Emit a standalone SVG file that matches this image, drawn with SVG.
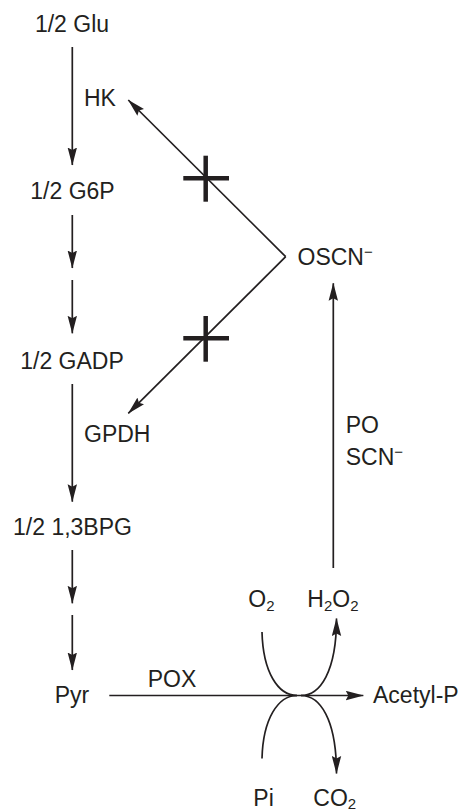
<svg xmlns="http://www.w3.org/2000/svg" width="462" height="810" viewBox="0 0 462 810">
<style>
text{font-family:"Liberation Sans",Arial,Helvetica,sans-serif;font-size:23px;fill:#231f20}
.c{text-anchor:middle}
.ln{stroke:#231f20;stroke-width:1.7;fill:none}
.x{stroke:#231f20;stroke-width:4.5;fill:none}
.sub{font-size:15px}
.sup{font-size:15px}
</style>
<defs>
<marker id="ah" markerUnits="userSpaceOnUse" markerWidth="18" markerHeight="10" viewBox="0 0 18 10" refX="17.5" refY="5" orient="auto">
<path d="M0,0.3 L18,5 L0,9.7 L2.5,5 z" fill="#231f20"/>
</marker>
</defs>
<g id="connectors">
<line class="ln" x1="72.3" y1="47" x2="72.3" y2="165" marker-end="url(#ah)"/>
<line class="ln" x1="72.3" y1="215" x2="72.3" y2="268" marker-end="url(#ah)"/>
<line class="ln" x1="72.3" y1="280" x2="72.3" y2="333.3" marker-end="url(#ah)"/>
<line class="ln" x1="72.3" y1="384" x2="72.3" y2="501.7" marker-end="url(#ah)"/>
<line class="ln" x1="72.3" y1="550" x2="72.3" y2="603.3" marker-end="url(#ah)"/>
<line class="ln" x1="72.3" y1="615" x2="72.3" y2="670" marker-end="url(#ah)"/>
<line class="ln" x1="109.3" y1="695.5" x2="363.3" y2="695.5" marker-end="url(#ah)"/>
<line class="ln" x1="333.3" y1="568" x2="333.3" y2="283.3" marker-end="url(#ah)"/>
<line class="ln" x1="285.7" y1="256.7" x2="128.3" y2="100" marker-end="url(#ah)"/>
<line class="ln" x1="285.7" y1="256.7" x2="128.3" y2="413.3" marker-end="url(#ah)"/>
<path class="ln" d="M262,632 C263,672 278,695.5 297,695.5"/>
<path class="ln" d="M301,695.5 C320,695.5 336.5,672 336.5,618.5" marker-end="url(#ah)"/>
<path class="ln" d="M262,758.5 C263,719 278,695.5 297,695.5"/>
<path class="ln" d="M301,695.5 C320,695.5 336.5,719 336.5,773.5" marker-end="url(#ah)"/>
<g id="inhibit1">
<line class="x" x1="183.3" y1="178.3" x2="229" y2="178.3"/>
<line class="x" x1="205.7" y1="155.7" x2="205.7" y2="201.7"/>
</g>
<g id="inhibit2">
<line class="x" x1="183.3" y1="338.3" x2="229" y2="338.3"/>
<line class="x" x1="205.7" y1="316" x2="205.7" y2="361.7"/>
</g>
</g>
<g id="glu"><text class="c" x="72" y="32">1/2 Glu</text></g>
<g id="hk"><text x="84" y="106">HK</text></g>
<g id="g6p"><text class="c" x="72.5" y="199">1/2 G6P</text></g>
<g id="oscn"><text x="297.5" y="265">OSCN<tspan class="sup" dy="-8">−</tspan></text></g>
<g id="gadp"><text class="c" x="72" y="369.3">1/2 GADP</text></g>
<g id="gpdh"><text x="84" y="441.7">GPDH</text></g>
<g id="po"><text x="345.7" y="433.3">PO</text><text x="345.7" y="465">SCN<tspan class="sup" dy="-8">−</tspan></text></g>
<g id="bpg"><text class="c" x="72.5" y="535">1/2 1,3BPG</text></g>
<g id="o2"><text x="248.3" y="606.7">O<tspan class="sub" dy="4">2</tspan></text></g>
<g id="h2o2"><text x="307.3" y="606.7">H<tspan class="sub" dy="4">2</tspan><tspan dy="-4">O</tspan><tspan class="sub" dy="4">2</tspan></text></g>
<g id="pox"><text x="147.7" y="687.3">POX</text></g>
<g id="pyr"><text class="c" x="72" y="702.5">Pyr</text></g>
<g id="acetylp"><text x="373" y="703">Acetyl-P</text></g>
<g id="pi"><text x="253.3" y="805.5">Pi</text></g>
<g id="co2"><text x="313.3" y="805.5">CO<tspan class="sub" dy="3">2</tspan></text></g>
</svg>
